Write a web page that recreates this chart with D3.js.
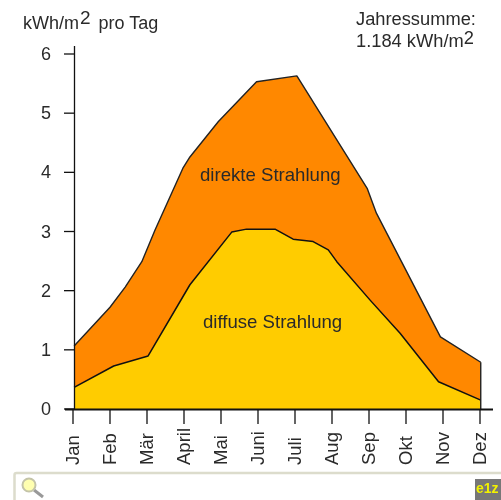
<!DOCTYPE html>
<html><head><meta charset="utf-8">
<script src="https://cdn.jsdelivr.net/npm/d3@7"></script>
<style>html,body{margin:0;padding:0;background:#fff;overflow:hidden}svg{display:block;filter:blur(0.45px)}text{font-family:"Liberation Sans",Arial,sans-serif;fill:#2a2a2a}</style>
</head><body><svg id="c" width="501" height="500"></svg>
<script>
const months=["Jan","Feb","Mär","April","Mai","Juni","Juli","Aug","Sep","Okt","Nov","Dez"];
const yTicks=[0,1,2,3,4,5,6];
// positions in month units (0 = Jan), values in kWh/m2 per day
const totalPos=[0.03,1,1.41,1.86,2.22,2.97,3.16,3.93,4.96,6.05,7.95,8.2,9.93,11.02];
const totalVal=[1.065,1.72,2.06,2.49,3.03,4.07,4.26,4.86,5.53,5.63,3.73,3.31,1.22,0.79];
const diffusePos=[0.03,1.1,2.03,3.16,4.29,4.69,5.46,5.95,6.49,6.9,7.13,8.03,8.84,9.88,11.02];
const diffuseVal=[0.367,0.727,0.896,2.1,2.99,3.04,3.04,2.87,2.83,2.69,2.49,1.84,1.28,0.46,0.15];

const svg=d3.select("#c");
const x=d3.scaleLinear().domain([0,11]).range([73,480]);
const y=d3.scaleLinear().domain([0,6]).range([409,54]);
const toPts=(p,v)=>p.map((d,i)=>[d,v[i]]);
const area=d3.area().x(d=>x(d[0])).y0(y(0)).y1(d=>y(d[1]));
const line=d3.line().x(d=>x(d[0])).y(d=>y(d[1]));
const T=toPts(totalPos,totalVal),D=toPts(diffusePos,diffuseVal);
svg.append("path").attr("d",area(T)).attr("fill","#ff8800");
svg.append("path").attr("d",area(D)).attr("fill","#ffcc00");
svg.append("path").attr("d",line(T)).attr("fill","none").attr("stroke","#222").attr("stroke-width",1.4).attr("stroke-linejoin","round");
svg.append("path").attr("d",line(D)).attr("fill","none").attr("stroke","#111").attr("stroke-width",1.5).attr("stroke-linejoin","round");
svg.append("line").attr("x1",x(11.02)).attr("x2",x(11.02)).attr("y1",y(0.79)).attr("y2",y(0)).attr("stroke","#222").attr("stroke-width",1.4);

const ax=svg.append("g").attr("stroke","#111").attr("stroke-width",1.3);
ax.append("line").attr("x1",74.5).attr("x2",74.5).attr("y1",46).attr("y2",410);
ax.append("line").attr("x1",65).attr("x2",493).attr("y1",409.5).attr("y2",409.5).attr("stroke-width",1.8);
ax.selectAll(".yt").data(yTicks).join("line").attr("x1",64).attr("x2",74).attr("y1",d=>y(d)).attr("y2",d=>y(d));
ax.selectAll(".xt").data(months).join("line").attr("x1",(d,i)=>x(i)).attr("x2",(d,i)=>x(i)).attr("y1",409).attr("y2",424);

svg.selectAll(".yl").data(yTicks).join("text").attr("x",51).attr("y",d=>y(d)+6).attr("text-anchor","end").attr("font-size",18).text(d=>d);
svg.selectAll(".xl").data(months).join("text").attr("text-anchor","start").attr("font-size",18.5)
 .attr("transform",(d,i)=>`translate(${x(i)+6},465) rotate(-90)`).text(d=>d);

const t1=svg.append("text").attr("x",23).attr("y",29).attr("font-size",18);
t1.append("tspan").text("kWh/m");t1.append("tspan").attr("dy",-5).attr("dx",1).attr("font-size",19).text("2");t1.append("tspan").attr("dy",5).attr("dx",3).text(" pro Tag");
svg.append("text").attr("x",356).attr("y",25).attr("font-size",18.3).text("Jahressumme:");
const t2=svg.append("text").attr("x",356).attr("y",47).attr("font-size",18.3);
t2.append("tspan").text("1.184 kWh/m");t2.append("tspan").attr("dy",-3).text("2");
svg.append("text").attr("x",200).attr("y",181).attr("font-size",18.6).text("direkte Strahlung");
svg.append("text").attr("x",203).attr("y",328).attr("font-size",18.6).text("diffuse Strahlung");

// search bar strip
svg.append("rect").attr("x",14.5).attr("y",473).attr("width",500).attr("height",40).attr("rx",2).attr("fill","#fff").attr("stroke","#dcdccc").attr("stroke-width",2.5);
svg.append("line").attr("x1",34).attr("y1",490).attr("x2",43).attr("y2",497).attr("stroke","#999").attr("stroke-width",3);
svg.append("circle").attr("cx",29).attr("cy",485).attr("r",6.5).attr("fill","#ffffb0").attr("stroke","#c4c4a8").attr("stroke-width",2);
svg.append("rect").attr("x",475).attr("y",479).attr("width",26).attr("height",21).attr("fill","#777");
svg.append("text").attr("x",476).attr("y",493).attr("font-size",14).attr("font-weight","bold").style("fill","#f2f200").text("e1z");
</script></body></html>
